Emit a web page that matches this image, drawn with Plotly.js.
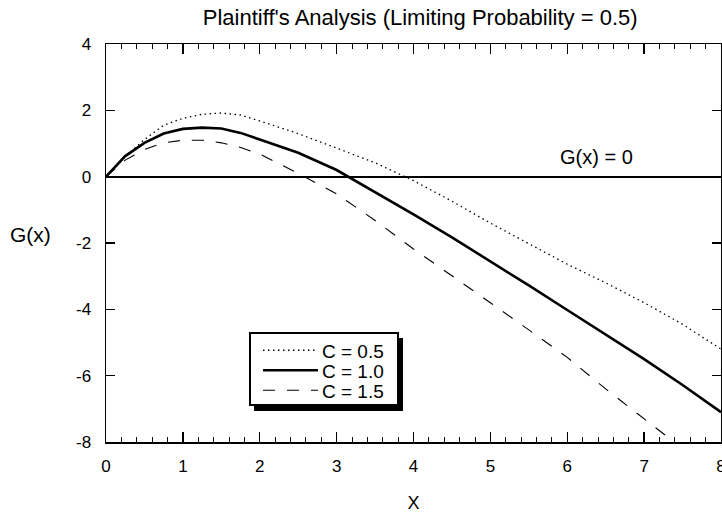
<!DOCTYPE html>
<html>
<head>
<meta charset="utf-8">
<script src="https://cdn.plot.ly/plotly-3.0.1.min.js"></script>
<style>html,body{margin:0;padding:0;background:#fff;}#chart{width:722px;height:513px;}</style>
</head>
<body>
<div id="chart"></div>
<script>
// ---- data ----
const xVals = [0, 0.25, 0.5, 0.75, 1, 1.25, 1.5, 1.75, 2, 2.5, 3, 3.5, 4, 4.5, 5, 5.5, 6, 6.5, 7, 7.5, 8];
const gC05 = [0, 0.6, 1.12, 1.55, 1.76, 1.88, 1.92, 1.86, 1.68, 1.3, 0.86, 0.42, -0.12, -0.74, -1.4, -2.03, -2.64, -3.2, -3.8, -4.45, -5.2];
const gC10 = [0, 0.62, 1.02, 1.3, 1.44, 1.48, 1.45, 1.32, 1.12, 0.72, 0.2, -0.46, -1.14, -1.83, -2.55, -3.28, -4.02, -4.76, -5.5, -6.28, -7.1];
const gC15 = [0, 0.5, 0.82, 1.02, 1.1, 1.1, 1.02, 0.88, 0.68, 0.1, -0.52, -1.32, -2.18, -2.98, -3.8, -4.62, -5.45, -6.4, -7.3, -8.2, null];
const seriesNames = ['C = 0.5', 'C = 1.0', 'C = 1.5'];
const xTickVals = [0, 1, 2, 3, 4, 5, 6, 7, 8];
const yTickVals = [-8, -6, -4, -2, 0, 2, 4];
const yTickText = ['-8', '-6', '-4', '-2', '0', '2', '4'];
const titleText = "Plaintiff's Analysis (Limiting Probability = 0.5)";
const yLabel = 'G(x)';
const xLabel = 'X';
const zeroLabel = 'G(x) = 0';

const FONT = 'Liberation Sans, Arial, Helvetica, sans-serif';

const traces = [
  {x: xVals, y: gC05, name: seriesNames[0], mode: 'lines',
   line: {color: '#000', width: 1.3, dash: '1.5px,3.5px'}},
  {x: xVals, y: gC10, name: seriesNames[1], mode: 'lines',
   line: {color: '#000', width: 2.6}},
  {x: xVals, y: gC15, name: seriesNames[2], mode: 'lines',
   line: {color: '#000', width: 1.1, dash: '12px,12px'}}
];

const layout = {
  width: 722, height: 513,
  margin: {l: 106, r: 1, t: 44, b: 71},
  paper_bgcolor: '#fff', plot_bgcolor: '#fff',
  font: {family: FONT, color: '#000', size: 17},
  showlegend: true,
  title: {text: titleText, x: 0.582, xanchor: 'center', y: 0.967, yanchor: 'middle',
          font: {family: FONT, size: 22, color: '#000'}},
  xaxis: {
    range: [0, 8], tickvals: xTickVals, ticks: 'inside', ticklen: 10, tickwidth: 1.3, tickcolor: '#000',
    minor: {dtick: 0.2, ticks: 'inside', ticklen: 5, tickwidth: 1, tickcolor: '#000', showgrid: false},
    showline: true, linecolor: '#000', linewidth: 1.5, mirror: 'ticks',
    showgrid: false, zeroline: false, ticklabelstandoff: 8, ticklabeloverflow: 'allow',
    tickfont: {family: FONT, size: 17, color: '#000'},
    title: {text: xLabel, font: {family: FONT, size: 18, color: '#000'}, standoff: 24}
  },
  yaxis: {
    range: [-8, 4], tickvals: yTickVals, ticktext: yTickText, ticks: 'inside', ticklen: 9, tickwidth: 1.3, tickcolor: '#000',
    showline: true, linecolor: '#000', linewidth: 1.5, mirror: 'ticks',
    showgrid: false, zeroline: true, zerolinecolor: '#000', zerolinewidth: 2,
    ticklabelstandoff: 10,
    tickfont: {family: FONT, size: 17, color: '#000'}
  },
  legend: {
    x: 0.2325, y: 0.276, xanchor: 'left', yanchor: 'top',
    bgcolor: '#fff', bordercolor: '#000', borderwidth: 2,
    font: {family: FONT, size: 19, color: '#000'},
    tracegroupgap: 0, itemwidth: 55
  },
  annotations: [
    {text: yLabel, xref: 'paper', yref: 'paper', x: -0.122, y: 0.5226, xanchor: 'center', yanchor: 'middle',
     showarrow: false, font: {family: FONT, size: 21, color: '#000'}},
    {text: zeroLabel, xref: 'x', yref: 'y', x: 6.38, y: 0.6, xanchor: 'center', yanchor: 'middle',
     showarrow: false, font: {family: FONT, size: 20, color: '#000'}}
  ]
};

function parseT(t) {
  const m = /translate\(\s*([-\d.e]+)[\s,]+([-\d.e]+)\s*\)/.exec(t || '');
  return m ? [parseFloat(m[1]), parseFloat(m[2])] : [0, 0];
}

function styleLegend(gd) {
  const lg = gd.querySelector('g.legend');
  if (!lg) return;
  const bg = lg.querySelector('rect.bg');
  const items = Array.from(lg.querySelectorAll('g.traces'));
  if (!bg || !items.length) return;
  const rowGap = 20, firstRow = 18, boxH = 72, boxW = 148, textShift = 6;
  const bgTop = bg.getBoundingClientRect().top;
  items.forEach(function (it, i) {
    const txt = it.querySelector('text.legendtext');
    const r = (txt || it).getBoundingClientRect();
    const cur = (r.top + r.bottom) / 2;
    const want = bgTop + firstRow + rowGap * i;
    const p = parseT(it.getAttribute('transform'));
    it.setAttribute('transform', 'translate(' + p[0] + ',' + (p[1] + want - cur) + ')');
    if (txt) txt.setAttribute('x', parseFloat(txt.getAttribute('x') || 0) + textShift);
  });
  // longer line samples, like the reference key
  lg.querySelectorAll('path.js-line').forEach(function (p) { p.setAttribute('d', 'M12,0h55'); });
  const h0 = parseFloat(bg.getAttribute('height'));
  const w0 = parseFloat(bg.getAttribute('width'));
  bg.setAttribute('height', boxH);
  bg.setAttribute('width', boxW);
  document.querySelectorAll('clipPath rect').forEach(function (cr) {
    if (Math.abs(parseFloat(cr.getAttribute('height')) - h0) < 3) {
      cr.setAttribute('height', boxH + 4);
      cr.setAttribute('width', Math.max(w0, boxW) + 4);
    }
  });
  // drop shadow behind the box
  const sh = bg.cloneNode(false);
  sh.setAttribute('class', 'legend-shadow');
  sh.setAttribute('x', parseFloat(bg.getAttribute('x') || 0) + 5);
  sh.setAttribute('y', parseFloat(bg.getAttribute('y') || 0) + 5);
  sh.style.fill = '#000';
  sh.style.stroke = '#000';
  sh.style.strokeWidth = '1px';
  lg.insertBefore(sh, bg);
}

Plotly.newPlot('chart', traces, layout, {displayModeBar: false, staticPlot: true}).then(styleLegend);
</script>
</body>
</html>
